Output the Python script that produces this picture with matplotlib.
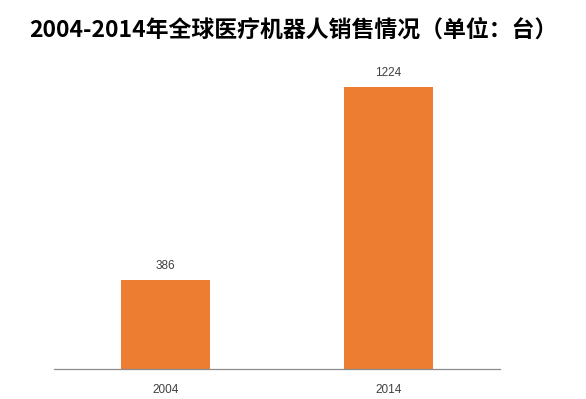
import matplotlib
matplotlib.use("Agg")
from matplotlib import pyplot as plt

years = ["2004", "2014"]
sales = [386, 1224]

bar_color = "#ED7D31"
text_color = "#404040"

plt.rcParams['font.family'] = ['Noto Sans CJK SC', 'DejaVu Sans']

fig = plt.figure(figsize=(5.86, 3.99), dpi=100)
# axes placed by pixel measurements of the reference
ax = fig.add_axes([54 / 586, 30 / 399, 446 / 586, 322.5 / 399])

x = range(len(years))
bars = ax.bar(x, sales, width=0.4, color=bar_color)

# value labels above bars
for rect, val in zip(bars, sales):
    ax.annotate(str(val), (rect.get_x() + rect.get_width() / 2, rect.get_height()),
                xytext=(0, 5.5), textcoords="offset points", ha="center", va="bottom",
                fontsize=8.5, color=text_color, family=["Liberation Sans"])

ax.set_xlim(-0.5, 1.5)
ax.set_ylim(0, 1400)
ax.set_xticks(list(x))
ax.set_xticklabels(years, fontsize=8.5, color=text_color, family=["Liberation Sans"])
ax.tick_params(axis="x", length=0, pad=11)
ax.set_yticks([])

for side in ["top", "right", "left"]:
    ax.spines[side].set_visible(False)
ax.spines["bottom"].set_color("#8c8c8c")
ax.spines["bottom"].set_linewidth(0.9)

fig.text(0.5, 1 - 30 / 399, "2004-2014年全球医疗机器人销售情况（单位：台）",
         ha="center", va="center", fontsize=16.5, fontweight="bold", color="#000000")

fig.savefig("out.png", dpi=100)
